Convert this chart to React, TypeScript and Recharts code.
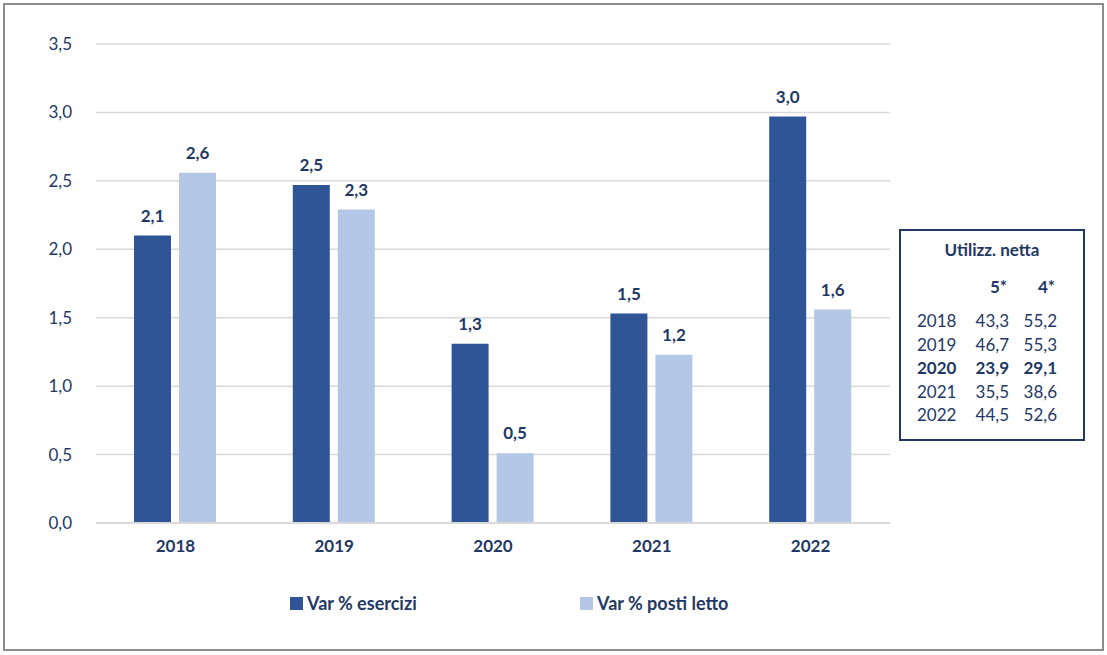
import { BarChart, Bar, XAxis, YAxis, CartesianGrid, LabelList } from 'recharts'

const years = ['2018', '2019', '2020', '2021', '2022']
const esercizi = [2.1, 2.47, 1.31, 1.53, 2.97]
const postiLetto = [2.56, 2.29, 0.51, 1.23, 1.56]
const yTicks = [0, 0.5, 1, 1.5, 2, 2.5, 3, 3.5]

const tableTitle = 'Utilizz. netta'
const tableHead = ['5*', '4*']
const tableYears = ['2018', '2019', '2020', '2021', '2022']
const table5 = ['43,3', '46,7', '23,9', '35,5', '44,5']
const table4 = ['55,2', '55,3', '29,1', '38,6', '52,6']
const boldRow = '2020'

const data = years.map((y, i) => ({ year: y, esercizi: esercizi[i], posti: postiLetto[i] }))

const NAVY = '#1F3864'
const DARK = '#2F5597'
const LIGHT = '#B4C7E7'
const FONT = 'Lato, "Open Sans", sans-serif'

const fmt = (v: number) => v.toFixed(1).replace('.', ',')

function ChartLegend() {
  const items = [
    { label: 'Var % esercizi', color: DARK, left: 290 },
    { label: 'Var % posti letto', color: LIGHT, left: 580 },
  ]
  return (
    <div style={{ position: 'absolute', left: 0, top: 592, width: 1107, height: 24 }}>
      {items.map((it) => (
        <div key={it.label} style={{ position: 'absolute', left: it.left, top: 0, display: 'flex', alignItems: 'center' }}>
          <span style={{ width: 13, height: 13, background: it.color, display: 'inline-block', marginRight: 4 }} />
          <span style={{ fontFamily: FONT, fontWeight: 700, fontSize: 18, color: NAVY }}>{it.label}</span>
        </div>
      ))}
    </div>
  )
}

export default function App() {
  return (
    <div style={{ position: 'absolute', left: 0, top: 0, width: 1107, height: 655, background: '#fff' }}>
      <div
        style={{
          position: 'absolute',
          left: 3,
          top: 3,
          width: 1097,
          height: 644,
          border: '2px solid #8C8C8C',
        }}
      />
      <BarChart
        width={1107}
        height={655}
        data={data}
        margin={{ top: 44, right: 217, left: 0, bottom: 102 }}
        barSize={37}
        barGap={8}
        style={{ position: 'absolute', left: 0, top: 0 }}
      >
        <CartesianGrid vertical={false} stroke="#D9D9D9" strokeWidth={1.5} />
        <XAxis
          dataKey="year"
          height={30}
          tickLine={false}
          tickSize={0}
          tickMargin={17}
          axisLine={{ stroke: '#D9D9D9', strokeWidth: 2 }}
          tick={{ fontFamily: FONT, fontSize: 17, fontWeight: 700, fill: NAVY }}
        />
        <YAxis
          width={96}
          domain={[0, 3.5]}
          ticks={yTicks}
          tickFormatter={fmt}
          axisLine={false}
          tickLine={false}
          tickSize={0}
          tickMargin={24}
          tick={{ fontFamily: FONT, fontSize: 17, fill: NAVY }}
        />
        <Bar dataKey="esercizi" name="Var % esercizi" fill={DARK} isAnimationActive={false}>
          <LabelList
            dataKey="esercizi"
            position="top"
            offset={14}
            formatter={(v: any) => fmt(Number(v))}
            style={{ fontFamily: FONT, fontSize: 17, fontWeight: 700, fill: NAVY }}
          />
        </Bar>
        <Bar dataKey="posti" name="Var % posti letto" fill={LIGHT} isAnimationActive={false}>
          <LabelList
            dataKey="posti"
            position="top"
            offset={14}
            formatter={(v: any) => fmt(Number(v))}
            style={{ fontFamily: FONT, fontSize: 17, fontWeight: 700, fill: NAVY }}
          />
        </Bar>
      </BarChart>
      <ChartLegend />
      <div
        style={{
          position: 'absolute',
          left: 899,
          top: 229,
          width: 182,
          height: 208,
          border: `2px solid ${NAVY}`,
          fontFamily: FONT,
          color: NAVY,
          fontSize: 17,
        }}
      >
        <div style={{ position: 'absolute', left: 0, right: 0, top: 8, textAlign: 'center', fontWeight: 700 }}>
          {tableTitle}
        </div>
        <div style={{ position: 'absolute', left: 62, width: 44, top: 45, textAlign: 'right', fontWeight: 700 }}>
          {tableHead[0]}
        </div>
        <div style={{ position: 'absolute', left: 110, width: 44, top: 45, textAlign: 'right', fontWeight: 700 }}>
          {tableHead[1]}
        </div>
        {tableYears.map((y, i) => {
          const bold = y === boldRow ? 700 : 400
          const top = 79 + i * 23.5
          return (
            <div key={y} style={{ fontWeight: bold }}>
              <div style={{ position: 'absolute', left: 16, top }}>{y}</div>
              <div style={{ position: 'absolute', left: 58, width: 50, top, textAlign: 'right' }}>{table5[i]}</div>
              <div style={{ position: 'absolute', left: 106, width: 50, top, textAlign: 'right' }}>{table4[i]}</div>
            </div>
          )
        })}
      </div>
    </div>
  )
}
